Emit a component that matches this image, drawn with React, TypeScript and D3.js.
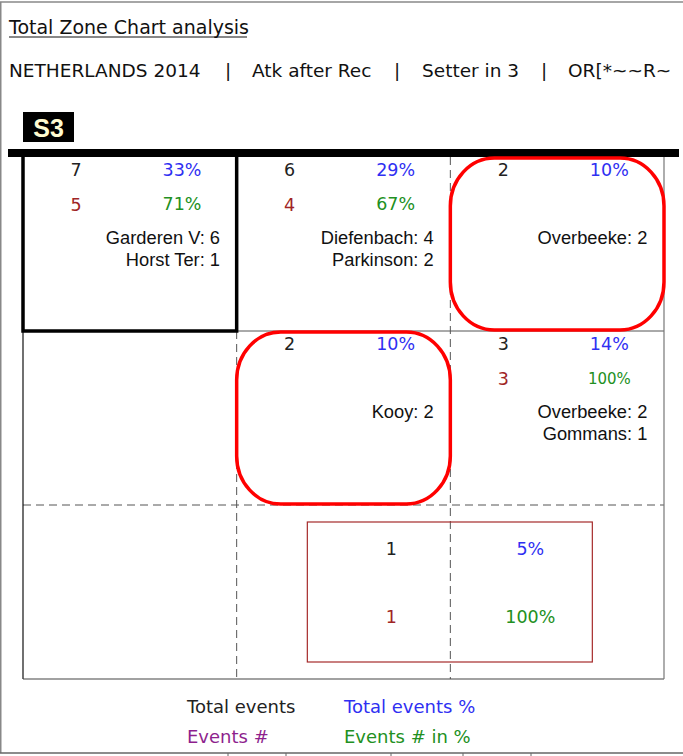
import React from 'react';
import * as d3 from 'd3';

// chart data
const filterParts = ['NETHERLANDS 2014', 'Atk after Rec', 'Setter in 3', 'OR[*~~R~'];
const rotationLabel = 'S3';

const cellCol = [0, 1, 2, 1, 2];
const cellRow = [0, 0, 0, 1, 1];
const totalEvents = [7, 6, 2, 2, 3];
const totalPct = [33, 29, 10, 10, 14];
const eventsNum = [5, 4, 0, 0, 3];
const eventsPct = [71, 67, 0, 0, 100];
const playerNames = [
  ['Garderen V', 'Horst Ter'],
  ['Diefenbach', 'Parkinson'],
  ['Overbeeke'],
  ['Kooy'],
  ['Overbeeke', 'Gommans'],
];
const playerCounts = [[6, 1], [4, 2], [2], [2], [2, 1]];
const lowZones = [2, 3]; // red rounded boxes
const topZone = 0; // black box

const extraTotal = 1;
const extraPct = 5;
const extraEvents = 1;
const extraEventsPct = 100;

const legendItems = ['Total events', 'Total events %', 'Events #', 'Events # in %'];

const numFont = '"DejaVu Sans", Verdana, sans-serif';
const nameFont = '"Liberation Sans", Arial, sans-serif';
const C_BLUE = '#2f2ff2';
const C_GREEN = '#229022';
const C_RED = '#a02525';
const C_PURPLE = '#8e1f8e';
const legendColors = ['#222', C_BLUE, C_PURPLE, C_GREEN];

// x positions of the subtitle pieces and the separators between them
const partX = [9, 252, 422, 568];
const sepX = [228, 397, 544];

export default function App() {
  const W = 683, H = 756;
  const x = d3.scaleBand<number>().domain([0, 1, 2]).range([23, 664]);
  const y = d3.scaleBand<number>().domain([0, 1, 2]).range([157, 679]);
  const bw = x.bandwidth();
  const bh = y.bandwidth();
  const left = x(0)!, right = x(2)! + bw;
  const top = y(0)!, bottom = y(2)! + bh;
  const x1 = x(1)!, x2 = x(2)!;
  const y1 = y(1)!, y2 = y(2)!;
  const grey = '#555';
  const dash = '8,5';
  const numSize = 17.5;

  const boxCx = x2;
  const boxW = 285;
  const boxY = y2 + 17;
  const boxH = bh - 34;

  return (
    <svg width={W} height={H} style={{ position: 'absolute', left: 0, top: 0, background: '#fff' }}>
      {/* outer frame */}
      <line x1={0} x2={W} y1={2} y2={2} stroke="#888" strokeWidth={1.5} />
      <line x1={0.75} x2={0.75} y1={2} y2={753} stroke="#888" strokeWidth={1.5} />
      <line x1={0} x2={W} y1={753} y2={753} stroke="#666" strokeWidth={1.5} />
      {[228, 286, 391, 463, 531].map((tx) => (
        <line key={tx} x1={tx} x2={tx} y1={753} y2={756} stroke="#666" />
      ))}

      {/* titles */}
      <text x={9} y={34} fontFamily={numFont} fontSize={19} fill="#111">Total Zone Chart analysis</text>
      <line x1={9} x2={247} y1={37} y2={37} stroke="#111" strokeWidth={1} />
      <g fontFamily={numFont} fontSize={18.5} fill="#111">
        {filterParts.map((p, i) => (
          <text key={p} x={partX[i]} y={77}>{p}</text>
        ))}
        {sepX.map((sx) => (
          <text key={sx} x={sx} y={77} textAnchor="middle">|</text>
        ))}
      </g>

      {/* rotation label */}
      <rect x={23} y={112} width={51} height={30} fill="#000" />
      <text x={48.5} y={137} textAnchor="middle" fontFamily={nameFont} fontWeight="bold" fontSize={25} fill="#fffbd0">
        {rotationLabel}
      </text>

      {/* court lines */}
      <line x1={x1} x2={right} y1={y1} y2={y1} stroke={grey} strokeWidth={1} />
      <line x1={left} x2={right} y1={y2} y2={y2} stroke={grey} strokeDasharray={dash} />
      <line x1={x1} x2={x1} y1={y1} y2={bottom} stroke={grey} strokeDasharray={dash} />
      <line x1={x2} x2={x2} y1={top} y2={bottom} stroke={grey} strokeDasharray={dash} />
      <line x1={left} x2={left} y1={top} y2={bottom} stroke="#111" strokeWidth={1.2} />
      <line x1={left} x2={right} y1={bottom} y2={bottom} stroke="#444" strokeWidth={1.2} />
      <line x1={right} x2={right} y1={top} y2={bottom} stroke="#777" strokeWidth={1.2} />

      {/* net */}
      <rect x={8} y={149} width={671} height={8} fill="#000" />

      {/* black highlight box */}
      <rect
        x={x(cellCol[topZone])}
        y={y(cellRow[topZone])! - 2}
        width={bw}
        height={bh + 2}
        fill="none"
        stroke="#000"
        strokeWidth={3.5}
      />

      {/* red rounded boxes */}
      {lowZones.map((i) => (
        <rect
          key={i}
          x={x(cellCol[i])}
          y={y(cellRow[i])! + 1}
          width={bw}
          height={bh - 2}
          rx={44}
          ry={48}
          fill="none"
          stroke="#ff0000"
          strokeWidth={3.5}
        />
      ))}

      {/* zone cells */}
      {totalEvents.map((t, i) => {
        const cx = x(cellCol[i])!;
        const cy = y(cellRow[i])!;
        const pctStr = `${eventsPct[i]}%`;
        return (
          <g key={i}>
            <text x={cx + 53} y={cy + 19} textAnchor="middle" fontFamily={numFont} fontSize={numSize} fill="#222">{t}</text>
            <text x={cx + 159} y={cy + 19} textAnchor="middle" fontFamily={numFont} fontSize={numSize} fill={C_BLUE}>{totalPct[i]}%</text>
            {eventsNum[i] > 0 && (
              <>
                <text x={cx + 53} y={cy + 54} textAnchor="middle" fontFamily={numFont} fontSize={numSize} fill={C_RED}>{eventsNum[i]}</text>
                <text
                  x={cx + 159}
                  y={cy + 53}
                  textAnchor="middle"
                  fontFamily={numFont}
                  fontSize={pctStr.length > 3 ? 15 : numSize}
                  fill={C_GREEN}
                >
                  {pctStr}
                </text>
              </>
            )}
            {playerNames[i].map((n, j) => (
              <text key={n} x={cx + 197} y={cy + 87 + j * 22} textAnchor="end" fontFamily={nameFont} fontSize={18.3} fill="#111">
                {n}: {playerCounts[i][j]}
              </text>
            ))}
          </g>
        );
      })}

      {/* extra box */}
      <rect x={boxCx - 143} y={boxY} width={boxW} height={boxH} fill="none" stroke="#a52a2a" strokeWidth={1.2} />
      <text x={boxCx - 59} y={boxY + 33} textAnchor="middle" fontFamily={numFont} fontSize={numSize} fill="#222">{extraTotal}</text>
      <text x={boxCx + 80} y={boxY + 33} textAnchor="middle" fontFamily={numFont} fontSize={numSize} fill={C_BLUE}>{extraPct}%</text>
      <text x={boxCx - 59} y={boxY + 101} textAnchor="middle" fontFamily={numFont} fontSize={numSize} fill={C_RED}>{extraEvents}</text>
      <text x={boxCx + 80} y={boxY + 101} textAnchor="middle" fontFamily={numFont} fontSize={numSize} fill={C_GREEN}>{extraEventsPct}%</text>

      {/* legend */}
      {legendItems.map((l, i) => (
        <text
          key={l}
          x={i % 2 === 0 ? 187 : 344}
          y={713 + Math.floor(i / 2) * 30}
          fontFamily={numFont}
          fontSize={18}
          fill={legendColors[i]}
        >
          {l}
        </text>
      ))}
    </svg>
  );
}
